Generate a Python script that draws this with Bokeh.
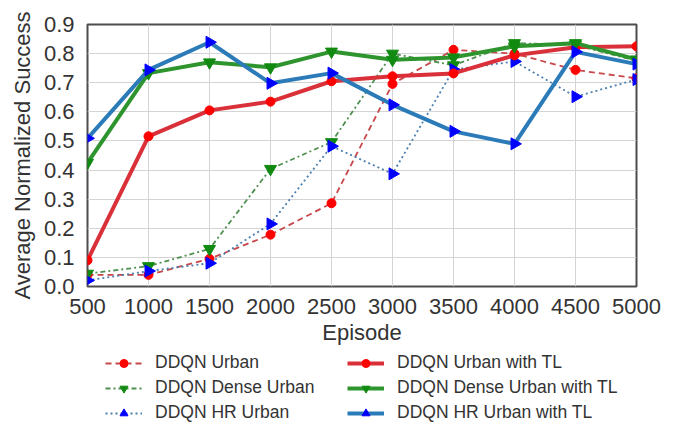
import numpy as np
from bokeh.plotting import figure
from bokeh.layouts import column
from bokeh.models import (FixedTicker, PrintfTickFormatter, Range1d, Legend, LegendItem)
from bokeh.embed import file_html
from bokeh.resources import INLINE

episodes = [500, 1000, 1500, 2000, 2500, 3000, 3500, 4000, 4500, 5000]
urban = [0.040, 0.040, 0.095, 0.178, 0.286, 0.696, 0.813, 0.800, 0.744, 0.715]
dense_urban = [0.044, 0.070, 0.129, 0.404, 0.496, 0.800, 0.760, 0.836, 0.830, 0.775]
hr_urban = [0.021, 0.053, 0.080, 0.215, 0.482, 0.387, 0.745, 0.773, 0.652, 0.711]
urban_tl = [0.090, 0.516, 0.605, 0.635, 0.705, 0.722, 0.732, 0.794, 0.822, 0.825]
dense_urban_tl = [0.425, 0.733, 0.770, 0.753, 0.807, 0.779, 0.787, 0.825, 0.836, 0.780]
hr_urban_tl = [0.509, 0.744, 0.839, 0.698, 0.733, 0.624, 0.533, 0.490, 0.806, 0.764]

y_ticks = [0.0, 0.1, 0.2, 0.3, 0.4, 0.5, 0.6, 0.7, 0.8, 0.9]
x_label = "Episode"
y_label = "Average Normalized Success"
labels = ["DDQN Urban", "DDQN Dense Urban", "DDQN HR Urban",
          "DDQN Urban with TL", "DDQN Dense Urban with TL", "DDQN HR Urban with TL"]

FONT = "Liberation Sans"
TXT = "#333333"

# styles: (line_color, line_width, dash, marker, marker_color, angle, size)
styles = [
    ("#c8474a", 1.8, "6 4", "circle", "#ff0000", 0.0, 9),
    ("#4f8f4f", 1.8, "5 3 2 3", "inverted_triangle", "#108a10", 0.0, 12),
    ("#4a7fb0", 1.8, "2 3", "triangle", "#0000ff", -np.pi / 2, 12),
    ("#d9303a", 4, "solid", "circle", "#ff0000", 0.0, 9),
    ("#2e952e", 4, "solid", "inverted_triangle", "#108a10", 0.0, 12),
    ("#2b7bb8", 4, "solid", "triangle", "#0000ff", -np.pi / 2, 12),
]
series = [urban, dense_urban, hr_urban, urban_tl, dense_urban_tl, hr_urban_tl]

p = figure(width=675, height=352, output_backend="svg", toolbar_location=None,
           x_range=Range1d(500, 5000), y_range=Range1d(0, 0.9),
           min_border_left=87, min_border_right=39, min_border_top=24, min_border_bottom=66)
p.background_fill_color = "white"
p.border_fill_color = "white"
p.outline_line_color = "#4d4d4d"
p.outline_line_width = 2

p.xaxis.ticker = FixedTicker(ticks=episodes)
p.yaxis.ticker = FixedTicker(ticks=y_ticks)
p.yaxis.formatter = PrintfTickFormatter(format="%.1f")
for ax in (p.xaxis[0], p.yaxis[0]):
    ax.axis_line_color = None
    ax.major_tick_line_color = None
    ax.minor_tick_line_color = None
    ax.major_tick_out = 0
    ax.major_tick_in = 0
    ax.major_label_text_font = FONT
    ax.major_label_text_font_size = "22px"
    ax.major_label_text_color = TXT
    ax.axis_label_text_font = FONT
    ax.axis_label_text_font_size = "22px"
    ax.axis_label_text_font_style = "normal"
    ax.axis_label_text_color = TXT
p.xaxis.axis_label = x_label
p.yaxis.axis_label = y_label
p.xaxis.major_label_standoff = 12
p.xaxis.axis_label_standoff = 3
p.yaxis.major_label_standoff = 13
p.yaxis.axis_label_standoff = 6

p.grid.grid_line_color = "#d4d4d4"
p.grid.grid_line_width = 1

for vals, (lc, lw, dash, mk, mc, ang, sz) in zip(series, styles):
    p.line(episodes, vals, line_color=lc, line_width=lw, line_dash=dash)
    p.scatter(episodes, vals, marker=mk, angle=ang, size=sz, fill_color=mc, line_color=mc)

# legend panel below the chart (its own renderers sit outside its visible range)
q = figure(width=675, height=74, output_backend="svg", toolbar_location=None,
           x_range=Range1d(0, 1), y_range=Range1d(5, 6),
           x_axis_type=None, y_axis_type=None, min_border=0)
q.outline_line_color = None
q.background_fill_color = "white"
q.border_fill_color = "white"
items = []
for lab, vals, (lc, lw, dash, mk, mc, ang, sz) in zip(labels, series, styles):
    lr = q.line(episodes, vals, line_color=lc, line_width=lw, line_dash=dash)
    sr = q.scatter(episodes, vals, marker=mk, angle=ang, size=sz, fill_color=mc, line_color=mc)
    items.append(LegendItem(label=lab, renderers=[lr, sr]))

lg = Legend(items=items, location=(18, 3), orientation="vertical", ncols=2)
lg.label_text_font = FONT
lg.label_text_font_size = "17.5px"
lg.label_text_color = TXT
lg.glyph_width = 37
lg.glyph_height = 20
lg.label_height = 21
lg.label_width = 188
lg.label_standoff = 13
lg.spacing = 4
lg.padding = 0
lg.margin = 0
lg.border_line_color = None
lg.background_fill_alpha = 0
q.add_layout(lg)

layout = column(p, q, spacing=0)
open("out.html", "w").write(file_html(layout, INLINE))
